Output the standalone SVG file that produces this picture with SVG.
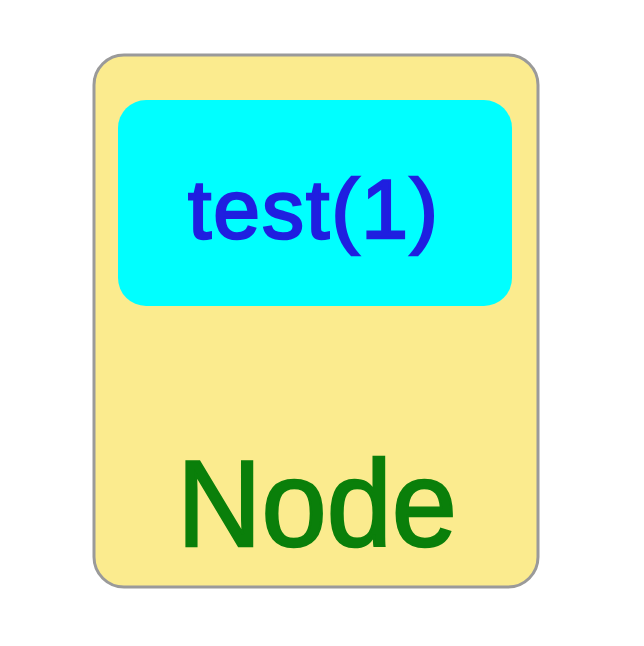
<svg xmlns="http://www.w3.org/2000/svg" width="644" height="646" viewBox="0 0 644 646">
<style>
.outer{fill:#FBEB8E;stroke:#9a9a9a;stroke-width:3}
.inner{fill:#00FFFF}
.t1{font-family:"Liberation Sans",Arial,sans-serif;fill:#1F1FE0;stroke:#1F1FE0;stroke-width:2.5}
.t2{font-family:"Liberation Sans",Arial,sans-serif;fill:#0A7F0A;stroke:#0A7F0A;stroke-width:2.5}
</style>
<rect width="644" height="646" fill="#ffffff"/>
<g id="node">
<rect class="outer" x="94" y="55" width="444" height="532" rx="30" ry="30"/>
<text class="t2" x="317" y="546" font-size="122" text-anchor="middle" textLength="280" lengthAdjust="spacingAndGlyphs">Node</text>
</g>
<g id="test1">
<rect class="inner" x="118" y="100" width="394" height="206" rx="28" ry="28"/>
<text class="t1" x="313" y="238" font-size="84" text-anchor="middle" textLength="250" lengthAdjust="spacing">test(1)</text>
</g>
<g id="connectors"/>
</svg>
